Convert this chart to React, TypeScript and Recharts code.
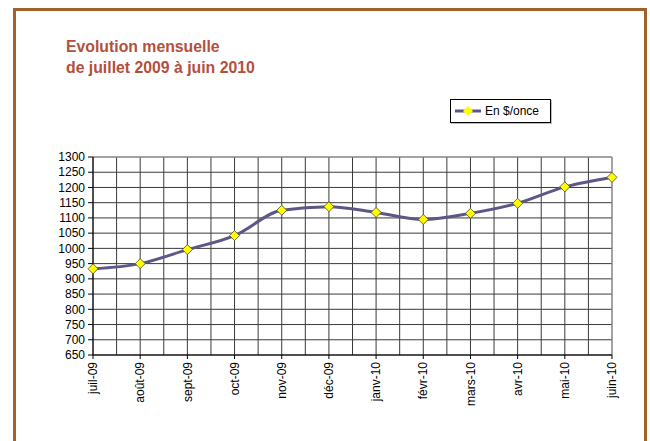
import React from "react";
import {
  LineChart,
  Line,
  XAxis,
  YAxis,
  CartesianGrid,
  ReferenceLine,
} from "recharts";

const months = [
  "juil-09",
  "août-09",
  "sept-09",
  "oct-09",
  "nov-09",
  "déc-09",
  "janv-10",
  "févr-10",
  "mars-10",
  "avr-10",
  "mai-10",
  "juin-10",
];
const prices = [933, 950, 996, 1042, 1125, 1137, 1118, 1095, 1115, 1148, 1202, 1233];
const yTicks = [650, 700, 750, 800, 850, 900, 950, 1000, 1050, 1100, 1150, 1200, 1250, 1300];
const xGridTicks = [0, 0.5, 1, 1.5, 2, 2.5, 3, 3.5, 4, 4.5, 5, 5.5, 6, 6.5, 7, 7.5, 8, 8.5, 9, 9.5, 10, 10.5, 11];
const titleLines = ["Evolution mensuelle", "de juillet 2009 à juin 2010"];
const seriesName = "En $/once";

const data = months.map((m, i) => ({ i, month: m, price: prices[i] }));

const FONT = "Arial, 'Liberation Sans', sans-serif";
const LINE_COLOR = "#5b5888";
const GRID_COLOR = "#3a3a3a";

const XTick = (props: any) => {
  const { x, y, payload } = props;
  const v = payload.value;
  if (!Number.isInteger(v)) return <g />;
  return (
    <g transform={`translate(${x},${y})`}>
      <line x1={0} y1={-7} x2={0} y2={-3} stroke="#000" strokeWidth={1} />
      <text
        transform="rotate(-90)"
        x={0}
        y={0}
        dy="0.35em"
        textAnchor="end"
        fontSize={12}
        fontFamily={FONT}
        fill="#000"
      >
        {months[v]}
      </text>
    </g>
  );
};

const Diamond = (props: any) => {
  const { cx, cy } = props;
  if (cx == null || cy == null) return <g />;
  const r = 5;
  return (
    <path
      d={`M${cx},${cy - r}L${cx + r},${cy}L${cx},${cy + r}L${cx - r},${cy}Z`}
      fill="#ffff00"
      stroke="#4d4a2a"
      strokeWidth={0.8}
    />
  );
};

export default function App() {
  return (
    <div
      style={{
        position: "absolute",
        left: 0,
        top: 0,
        width: 650,
        height: 441,
        overflow: "hidden",
        background: "#fff",
      }}
    >
      <div
        style={{
          position: "absolute",
          left: 13,
          top: 8,
          width: 628,
          height: 460,
          border: "3px solid #a0622a",
        }}
      />
      <div
        style={{
          position: "absolute",
          left: 66,
          top: 36,
          fontFamily: FONT,
          fontWeight: "bold",
          fontSize: 15.8,
          lineHeight: "21px",
          color: "#b3503c",
        }}
      >
        <div>{titleLines[0]}</div>
        <div>{titleLines[1]}</div>
      </div>
      <div
        style={{
          position: "absolute",
          left: 450,
          top: 99,
          width: 99,
          height: 22,
          border: "1px solid #000",
          boxShadow: "1px 1px 0 #bbb",
          background: "#fff",
          display: "flex",
          alignItems: "center",
          fontFamily: FONT,
          fontSize: 12,
        }}
      >
        <svg width={30} height={12} style={{ marginLeft: 3 }}>
          <line x1={1} y1={6} x2={27} y2={6} stroke={LINE_COLOR} strokeWidth={3} />
          <path d="M14,1L19,6L14,11L9,6Z" fill="#ffff00" />
        </svg>
        <span style={{ marginLeft: 1 }}>{seriesName}</span>
      </div>
      <div style={{ position: "absolute", left: 0, top: 0 }}>
        <LineChart
          width={650}
          height={441}
          data={data}
          margin={{ top: 157, right: 38, left: 0, bottom: 0 }}
        >
          <CartesianGrid
            stroke={GRID_COLOR}
            strokeWidth={1}
            fill="#fff"
          />
          <XAxis
            dataKey="i"
            type="number"
            domain={[0, 11]}
            ticks={xGridTicks}
            interval={0}
            height={86}
            tickSize={5}
            tickMargin={2}
            tickLine={false}
            axisLine={{ stroke: "#000", strokeWidth: 1 }}
            tick={<XTick />}
          />
          <YAxis
            type="number"
            domain={[650, 1300]}
            ticks={yTicks}
            interval={0}
            width={93}
            tickSize={5}
            tickMargin={3}
            tickLine={{ stroke: "#000" }}
            axisLine={{ stroke: "#000", strokeWidth: 1 }}
            tick={{ fontSize: 12, fontFamily: FONT, fill: "#000" }}
          />
          <ReferenceLine y={1300} stroke="#a8a8a8" strokeWidth={1} />
          <ReferenceLine x={11} stroke="#a8a8a8" strokeWidth={1} />
          <Line
            type="monotone"
            dataKey="price"
            stroke={LINE_COLOR}
            strokeWidth={3}
            dot={<Diamond />}
            activeDot={false}
            isAnimationActive={false}
          />
        </LineChart>
      </div>
    </div>
  );
}
